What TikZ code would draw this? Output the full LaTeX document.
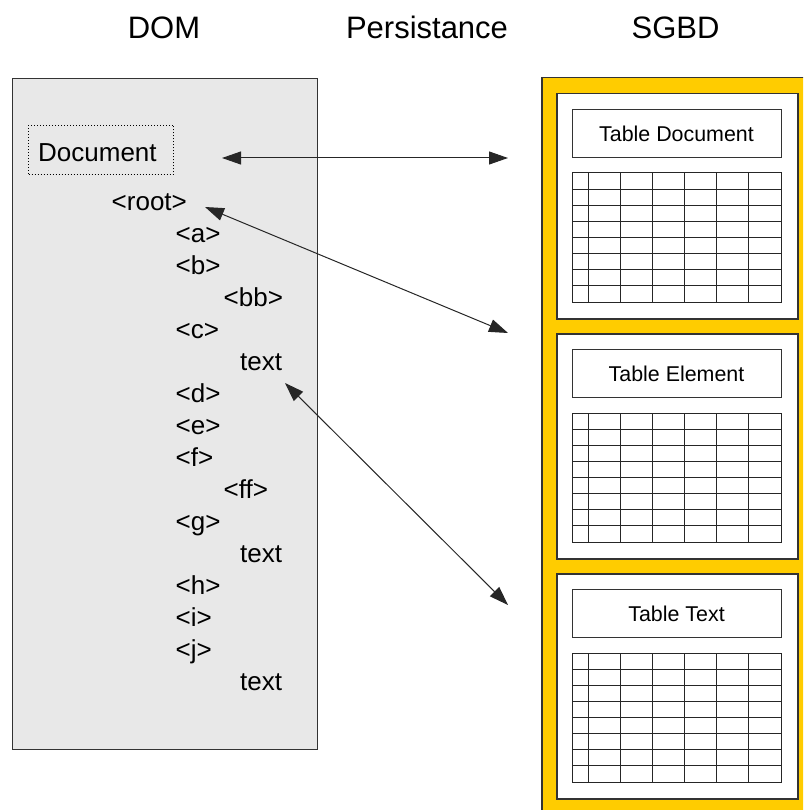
\documentclass[tikz,border=0pt]{standalone}
\usepackage{fontspec}
\setmainfont{Liberation Sans}
\usetikzlibrary{arrows.meta}
\definecolor{panelyellow}{HTML}{FFCC00}
\definecolor{domgrey}{HTML}{E8E8E8}
\begin{document}
\begin{tikzpicture}[x=1pt,y=-1pt,
  title/.style={anchor=base,font=\fontsize{31}{36}\selectfont,inner sep=0},
  tag/.style={anchor=base west,font=\fontsize{26}{30}\selectfont,inner sep=0},
  tlabel/.style={anchor=base,font=\fontsize{21.4}{25}\selectfont,inner sep=0},
  link/.style={line width=1pt,black!85,{Triangle[length=19pt,width=13pt]}-{Triangle[length=19pt,width=13pt]}},
  tbox/.style={draw=black!80,line width=1.5pt,fill=white,inner sep=0,anchor=north west},
  hdrbox/.style={draw=black!80,line width=1pt,fill=white,inner sep=0,anchor=north west,minimum width=209pt,minimum height=48pt},
  gridline/.style={draw=black!85,line width=1pt}
]
\useasboundingbox (0,0) rectangle (803,810);
\begin{scope}
\clip (0,0) rectangle (803,810);
% titles
\node[title] (tdom) at (164,39) {DOM};
\node[title] (tpers) at (427,39) {Persistance};
\node[title] (tsgbd) at (675.5,39) {SGBD};
% DOM panel
\node[draw=black!80,line width=1pt,fill=domgrey,inner sep=0,anchor=north west,minimum width=305pt,minimum height=671pt] (dompanel) at (12,78) {};
% SGBD panel
\node[draw=black!80,line width=1.5pt,fill=panelyellow,inner sep=0,anchor=north west,minimum width=290pt,minimum height=760pt] (sgbdpanel) at (541,77) {};
% Document box
\node[draw=black,line width=1pt,dash pattern=on 1pt off 2pt,inner sep=0,anchor=north west,minimum width=145pt,minimum height=49pt] (docbox) at (28,125) {};
\node[tag] (doc) at (38,161.7) {Document};
% tree
\node[tag] (root) at (111.5,210.7) {<root>};
\node[tag] (na) at (175.5,242.7) {<a>};
\node[tag] (nb) at (175.5,274.7) {<b>};
\node[tag] (nbb) at (223.5,306.7) {<bb>};
\node[tag] (nc) at (175.5,338.7) {<c>};
\node[tag] (txt1) at (240,370.7) {text};
\node[tag] (nd) at (175.5,402.7) {<d>};
\node[tag] (ne) at (175.5,434.7) {<e>};
\node[tag] (nf) at (175.5,466.7) {<f>};
\node[tag] (nff) at (223.5,498.7) {<ff>};
\node[tag] (ng) at (175.5,530.7) {<g>};
\node[tag] (txt2) at (240,562.7) {text};
\node[tag] (nh) at (175.5,594.7) {<h>};
\node[tag] (ni) at (175.5,626.7) {<i>};
\node[tag] (nj) at (175.5,658.7) {<j>};
\node[tag] (txt3) at (240,690.7) {text};
% tables
\foreach \i/\lab/\nm in {0/Table Document/tdoc,1/Table Element/telem,2/Table Text/ttext}{
  \begin{scope}[shift={(0,240*\i)}]
    \node[tbox,minimum width=241pt,minimum height=225pt] (\nm) at (556,93) {};
    \node[hdrbox] (\nm-hdr) at (572,109) {};
    \node[tlabel] (\nm-lab) at (676.5,141.7) {\lab};
    \draw[gridline] (572,173) rectangle (781,302);
    \foreach \k in {1,...,7}{
      \draw[gridline] (572,173+16.125*\k) -- (781,173+16.125*\k);
    }
    \foreach \xx in {588,620,652,684,716,748}{
      \draw[gridline] (\xx,173) -- (\xx,302);
    }
  \end{scope}
}
% connectors
\coordinate (a1) at (222,158);
\coordinate (b1) at (508,158);
\coordinate (a2) at (205,207);
\coordinate (b2) at (508,333);
\coordinate (a3) at (285,383);
\coordinate (b3) at (508,605);
\draw[link] (a1) -- (b1);
\draw[link] (a2) -- (b2);
\draw[link] (a3) -- (b3);
\end{scope}
\end{tikzpicture}
\end{document}
